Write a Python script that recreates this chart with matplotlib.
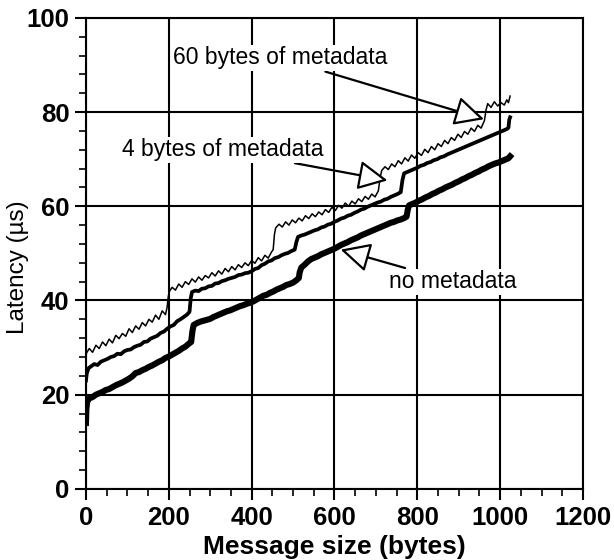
import matplotlib
matplotlib.use("Agg")
import matplotlib.pyplot as plt
from matplotlib.ticker import MultipleLocator

plt.rcParams["font.family"] = ["Liberation Sans", "DejaVu Sans"]

# 60 bytes of metadata (thin, zig-zag)
x_meta60 = [0, 1, 8, 16, 24, 32, 40, 48, 56, 64, 72, 80, 88, 96, 104, 112, 120, 128, 136, 144,
            152, 160, 168, 176, 184, 192, 196, 199, 202,
            208, 216, 224, 232, 240, 248, 256, 264, 272, 280, 288, 296, 304, 312, 320, 328, 336,
            344, 352, 360, 368, 376, 384, 392, 400, 408, 416, 424, 432, 440, 448, 452, 455, 458,
            466, 474, 482, 490, 498, 506, 514, 522, 530, 538, 546, 554, 562, 570, 578, 586, 594,
            602, 610, 618, 626, 634, 642, 650, 658, 666, 674, 682, 690, 698, 706, 710, 714,
            722, 730, 738, 746, 754, 762, 770, 778, 786, 794, 802, 810, 818, 826, 834, 842, 850,
            858, 866, 874, 882, 890, 898, 906, 914, 922, 930, 938, 946, 954, 962, 966, 970,
            978, 986, 994, 1002, 1010, 1016, 1020, 1024]
y_meta60 = [27.5, 28.8, 29.8, 29.0, 30.5, 29.8, 31.2, 30.4, 31.8, 31.0, 32.6, 31.9, 33.0, 32.4,
            34.0, 33.2, 34.6, 33.9, 35.3, 34.6, 36.0, 35.4, 36.9, 36.0, 37.8, 37.0, 38.6, 41.0, 42.0,
            42.8, 42.2, 43.5, 42.8, 44.0, 43.4, 44.6, 43.9, 45.0, 44.3, 45.3, 44.8, 45.9, 45.2, 46.3,
            45.6, 46.8, 46.1, 47.2, 46.5, 47.6, 47.0, 48.0, 47.4, 48.5, 47.9, 49.1, 48.4, 49.6, 49.0,
            50.3, 50.8, 54.0, 55.4,
            56.2, 55.6, 56.7, 56.0, 57.1, 56.5, 57.5, 56.9, 58.0, 57.4, 58.4, 57.8, 58.8, 58.2, 59.3,
            58.7, 59.8, 59.1, 60.2, 59.6, 60.7, 60.0, 61.1, 60.5, 61.6, 61.0, 62.1, 61.5, 62.6, 62.0,
            63.3, 66.0, 67.6,
            68.4, 67.8, 69.0, 68.4, 69.7, 69.0, 70.3, 69.6, 70.9, 70.2, 71.4, 70.8, 72.1, 71.4, 72.7,
            72.0, 73.3, 72.7, 74.0, 73.3, 74.6, 74.0, 75.3, 74.6, 75.9, 75.3, 76.6, 75.9, 77.2, 76.6,
            78.2, 80.5, 81.8,
            81.0, 82.2, 81.3, 82.0, 81.5, 82.6, 82.0, 83.4]

# 4 bytes of metadata (medium)
x_meta4 = [0, 2, 6, 12, 20, 28, 36, 44, 52, 60, 68, 76, 84, 92, 100, 108, 116, 124, 132, 140,
           148, 156, 164, 172, 180, 188, 196, 204, 212, 220, 228, 236, 244, 250, 253, 256,
           264, 272, 280, 288, 296, 304, 312, 320, 328, 336, 344, 352, 360, 368, 376, 384, 392,
           400, 408, 416, 424, 432, 440, 448, 456, 464, 472, 480, 488, 496, 504, 508, 512,
           520, 528, 536, 544, 552, 560, 568, 576, 584, 592, 600, 608, 616, 624, 632, 640, 648,
           656, 664, 672, 680, 688, 696, 704, 712, 720, 728, 736, 744, 752, 760, 764, 768,
           776, 784, 792, 800, 808, 816, 824, 832, 840, 848, 856, 864, 872, 880, 888, 896, 904,
           912, 920, 928, 936, 944, 952, 960, 968, 976, 984, 992, 1000, 1008, 1016, 1020, 1022, 1024]
y_meta4 = [23.0, 24.5, 25.6, 26.0, 26.5, 26.3, 27.0, 27.3, 27.6, 28.0, 28.2, 28.7, 28.6, 29.2,
           29.5, 29.6, 30.1, 30.4, 30.6, 31.2, 31.3, 31.9, 32.2, 32.5, 33.1, 33.4, 34.0, 34.5,
           34.8, 35.6, 36.0, 36.5, 37.0, 37.6, 40.5, 41.8,
           42.1, 42.0, 42.5, 42.6, 43.0, 43.1, 43.6, 43.7, 44.1, 44.3, 44.6, 44.8, 45.0, 45.4,
           45.5, 45.8, 45.9, 46.2, 46.7, 46.9, 47.5, 47.8, 48.3, 48.5, 49.0, 49.2, 49.6, 49.9,
           50.1, 50.5, 50.8, 52.4, 53.5,
           53.8, 54.0, 54.3, 54.6, 54.9, 55.1, 55.5, 55.7, 56.1, 56.3, 56.7, 57.0, 57.4, 57.6,
           58.0, 58.2, 58.6, 58.9, 59.3, 59.5, 59.9, 60.2, 60.5, 60.8, 61.0, 61.4, 61.6, 62.0,
           62.3, 62.6, 63.0, 65.5, 67.0,
           67.3, 67.6, 67.9, 68.2, 68.6, 68.8, 69.2, 69.4, 69.8, 70.0, 70.4, 70.6, 71.0, 71.3,
           71.6, 71.9, 72.2, 72.5, 72.8, 73.1, 73.4, 73.7, 74.0, 74.3, 74.6, 74.9, 75.2, 75.5,
           75.8, 76.1, 76.4, 76.7, 78.4, 78.9]

# no metadata (thick)
x_none = [0, 1, 3, 8, 16, 24, 32, 40, 48, 56, 64, 72, 80, 88, 96, 104, 112, 120, 128, 136, 144,
          152, 160, 168, 176, 184, 192, 200, 208, 216, 224, 232, 240, 248, 254, 257, 260,
          268, 276, 284, 292, 300, 308, 316, 324, 332, 340, 348, 356, 364, 372, 380, 388, 396,
          404, 412, 420, 428, 436, 444, 452, 460, 468, 476, 484, 492, 500, 508, 514, 516, 520,
          528, 536, 544, 552, 560, 568, 576, 584, 592, 600, 608, 616, 624, 632, 640, 648, 656,
          664, 672, 680, 688, 696, 704, 712, 720, 728, 736, 744, 752, 760, 768, 774, 777, 780,
          788, 796, 804, 812, 820, 828, 836, 844, 852, 860, 868, 876, 884, 892, 900, 908, 916,
          924, 932, 940, 948, 956, 964, 972, 980, 988, 996, 1004, 1012, 1020, 1024]
y_none = [14.0, 17.0, 18.5, 19.2, 19.5, 20.0, 20.3, 20.6, 21.0, 21.2, 21.6, 22.0, 22.3, 22.6,
          23.0, 23.4, 23.9, 24.6, 24.8, 25.2, 25.5, 25.9, 26.2, 26.6, 27.0, 27.3, 27.8, 28.1,
          28.5, 28.9, 29.3, 29.8, 30.2, 30.8, 31.2, 33.5, 34.8,
          35.2, 35.5, 35.7, 35.9, 36.1, 36.5, 36.8, 37.1, 37.4, 37.7, 37.9, 38.2, 38.5, 38.8,
          39.0, 39.3, 39.5, 39.8, 40.2, 40.6, 41.0, 41.2, 41.6, 41.9, 42.3, 42.6, 42.9, 43.3,
          43.5, 43.8, 44.3, 44.8, 46.0, 47.0,
          47.6, 48.3, 48.8, 49.1, 49.4, 49.8, 50.1, 50.4, 50.7, 51.0, 51.4, 51.8, 52.1, 52.4,
          52.8, 53.1, 53.4, 53.8, 54.1, 54.4, 54.7, 55.0, 55.3, 55.6, 55.9, 56.2, 56.5, 56.7,
          57.0, 57.2, 57.5, 57.8, 59.3, 60.2,
          60.5, 60.8, 61.2, 61.5, 61.9, 62.2, 62.6, 62.9, 63.3, 63.6, 64.0, 64.3, 64.6, 65.0,
          65.3, 65.7, 66.0, 66.4, 66.7, 67.1, 67.4, 67.8, 68.1, 68.5, 68.8, 69.1, 69.3, 69.6,
          69.9, 70.2, 70.6]

fig = plt.figure(figsize=(6.14, 5.6), dpi=100)
ax = fig.add_axes([0.140, 0.127, 0.8095, 0.841])

ax.plot(x_none, y_none, color="black", lw=4.4, zorder=3)
ax.plot(x_meta4, y_meta4, color="black", lw=2.7, zorder=3)
ax.plot(x_meta60, y_meta60, color="black", lw=1.1, zorder=3)

ax.set_xlim(0, 1200)
ax.set_ylim(0, 100)
ax.xaxis.set_major_locator(MultipleLocator(200))
ax.xaxis.set_minor_locator(MultipleLocator(50))
ax.yaxis.set_major_locator(MultipleLocator(20))
ax.yaxis.set_minor_locator(MultipleLocator(4))
ax.grid(True, which="major", color="black", lw=1.5, zorder=1)
ax.set_axisbelow(True)
for s in ax.spines.values():
    s.set_linewidth(1.5)
ax.tick_params(which="major", direction="out", length=8, width=1.5, pad=4)
ax.tick_params(which="minor", direction="out", length=5, width=1.2)
for lab in ax.get_xticklabels() + ax.get_yticklabels():
    lab.set_fontsize(18.5)
    lab.set_fontweight("bold")

ax.set_xlabel("Message size (bytes)", fontsize=19, fontweight="bold", labelpad=4)
ax.set_ylabel("Latency (\u00b5s)", fontsize=17.5)
ax.yaxis.set_label_coords(-0.115, 0.47)

arrow = dict(arrowstyle="-|>,head_length=1.1,head_width=0.55", fc="white", ec="black",
             lw=1.6, shrinkA=2, shrinkB=0)
box = dict(fc="white", ec="none", pad=1)
ax.annotate("60 bytes of metadata", xy=(961, 78.5), xytext=(468, 91.5),
            ha="center", va="center", fontsize=16.5, bbox=box, arrowprops=arrow, zorder=4)
ax.annotate("4 bytes of metadata", xy=(728, 65.5), xytext=(331, 72),
            ha="center", va="center", fontsize=16.5, bbox=box, arrowprops=arrow, zorder=4)
ax.annotate("no metadata", xy=(615, 50.8), xytext=(886, 44),
            ha="center", va="center", fontsize=16.5, bbox=box, arrowprops=arrow, zorder=4)

fig.savefig("out.png", dpi=100)
